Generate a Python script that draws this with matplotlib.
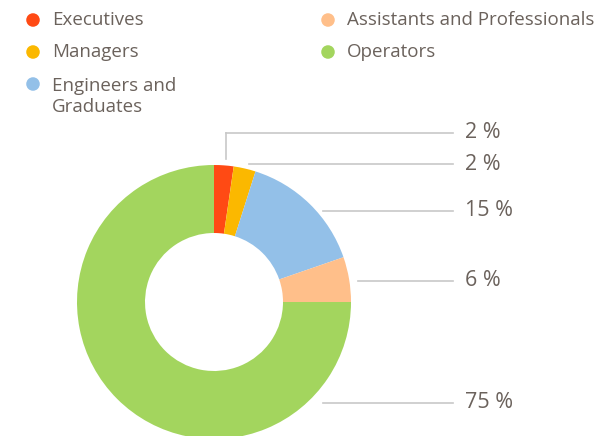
import numpy as np
import matplotlib.pyplot as plt

categories = ['Executives', 'Managers', 'Engineers and\nGraduates',
              'Assistants and Professionals', 'Operators']
shares = [2.3, 2.6, 14.8, 5.3, 75.0]
share_labels = ['2 %', '2 %', '15 %', '6 %', '75 %']
colors = ['#ff4a14', '#fbb800', '#93c0e8', '#ffbf8a', '#a3d55e']

text_color = '#6b625c'
line_color = '#c8c8c8'
plt.rcParams['font.family'] = ['Open Sans', 'DejaVu Sans']

W, H = 599, 436
fig = plt.figure(figsize=(W / 100, H / 100), dpi=100)
ax = fig.add_axes([0, 0, 1, 1])

# donut, pixel coords with y measured upward
cx, cy, r = 214, H - 302, 137
ax.pie(shares, colors=colors, startangle=90, counterclock=False,
       center=(cx, cy), radius=r,
       wedgeprops=dict(width=68, linewidth=0))

# leader lines (y in px from top)
leader_y = [133, 164, 211, 281, 403]
leader_x0 = [226, 249, 323, 358, 323]
for i, lab in enumerate(share_labels):
    y = H - leader_y[i]
    if i == 0:
        ax.plot([leader_x0[i], leader_x0[i]], [H - 159, y], color=line_color, lw=1.2)
    ax.plot([leader_x0[i], 453], [y, y], color=line_color, lw=1.2)
    ax.text(465, y, lab, color=text_color, fontsize=15.5, va='center', ha='left')

# legend
leg_pos = [(33, 20), (33, 52), (33, 84), (328, 20), (328, 52)]
for (lx, ly), name, c in zip(leg_pos, categories, colors):
    ax.scatter([lx], [H - ly], s=95, color=c, edgecolors='none')
    if '\n' in name:
        ax.text(lx + 19, H - ly + 7, name, color=text_color, fontsize=13.5,
                va='top', ha='left', linespacing=1.25)
    else:
        ax.text(lx + 19, H - ly, name, color=text_color, fontsize=13.5,
                va='center', ha='left')

ax.set_xlim(0, W)
ax.set_ylim(0, H)
ax.set_aspect('equal')
ax.axis('off')
fig.savefig('out.png', dpi=100)
